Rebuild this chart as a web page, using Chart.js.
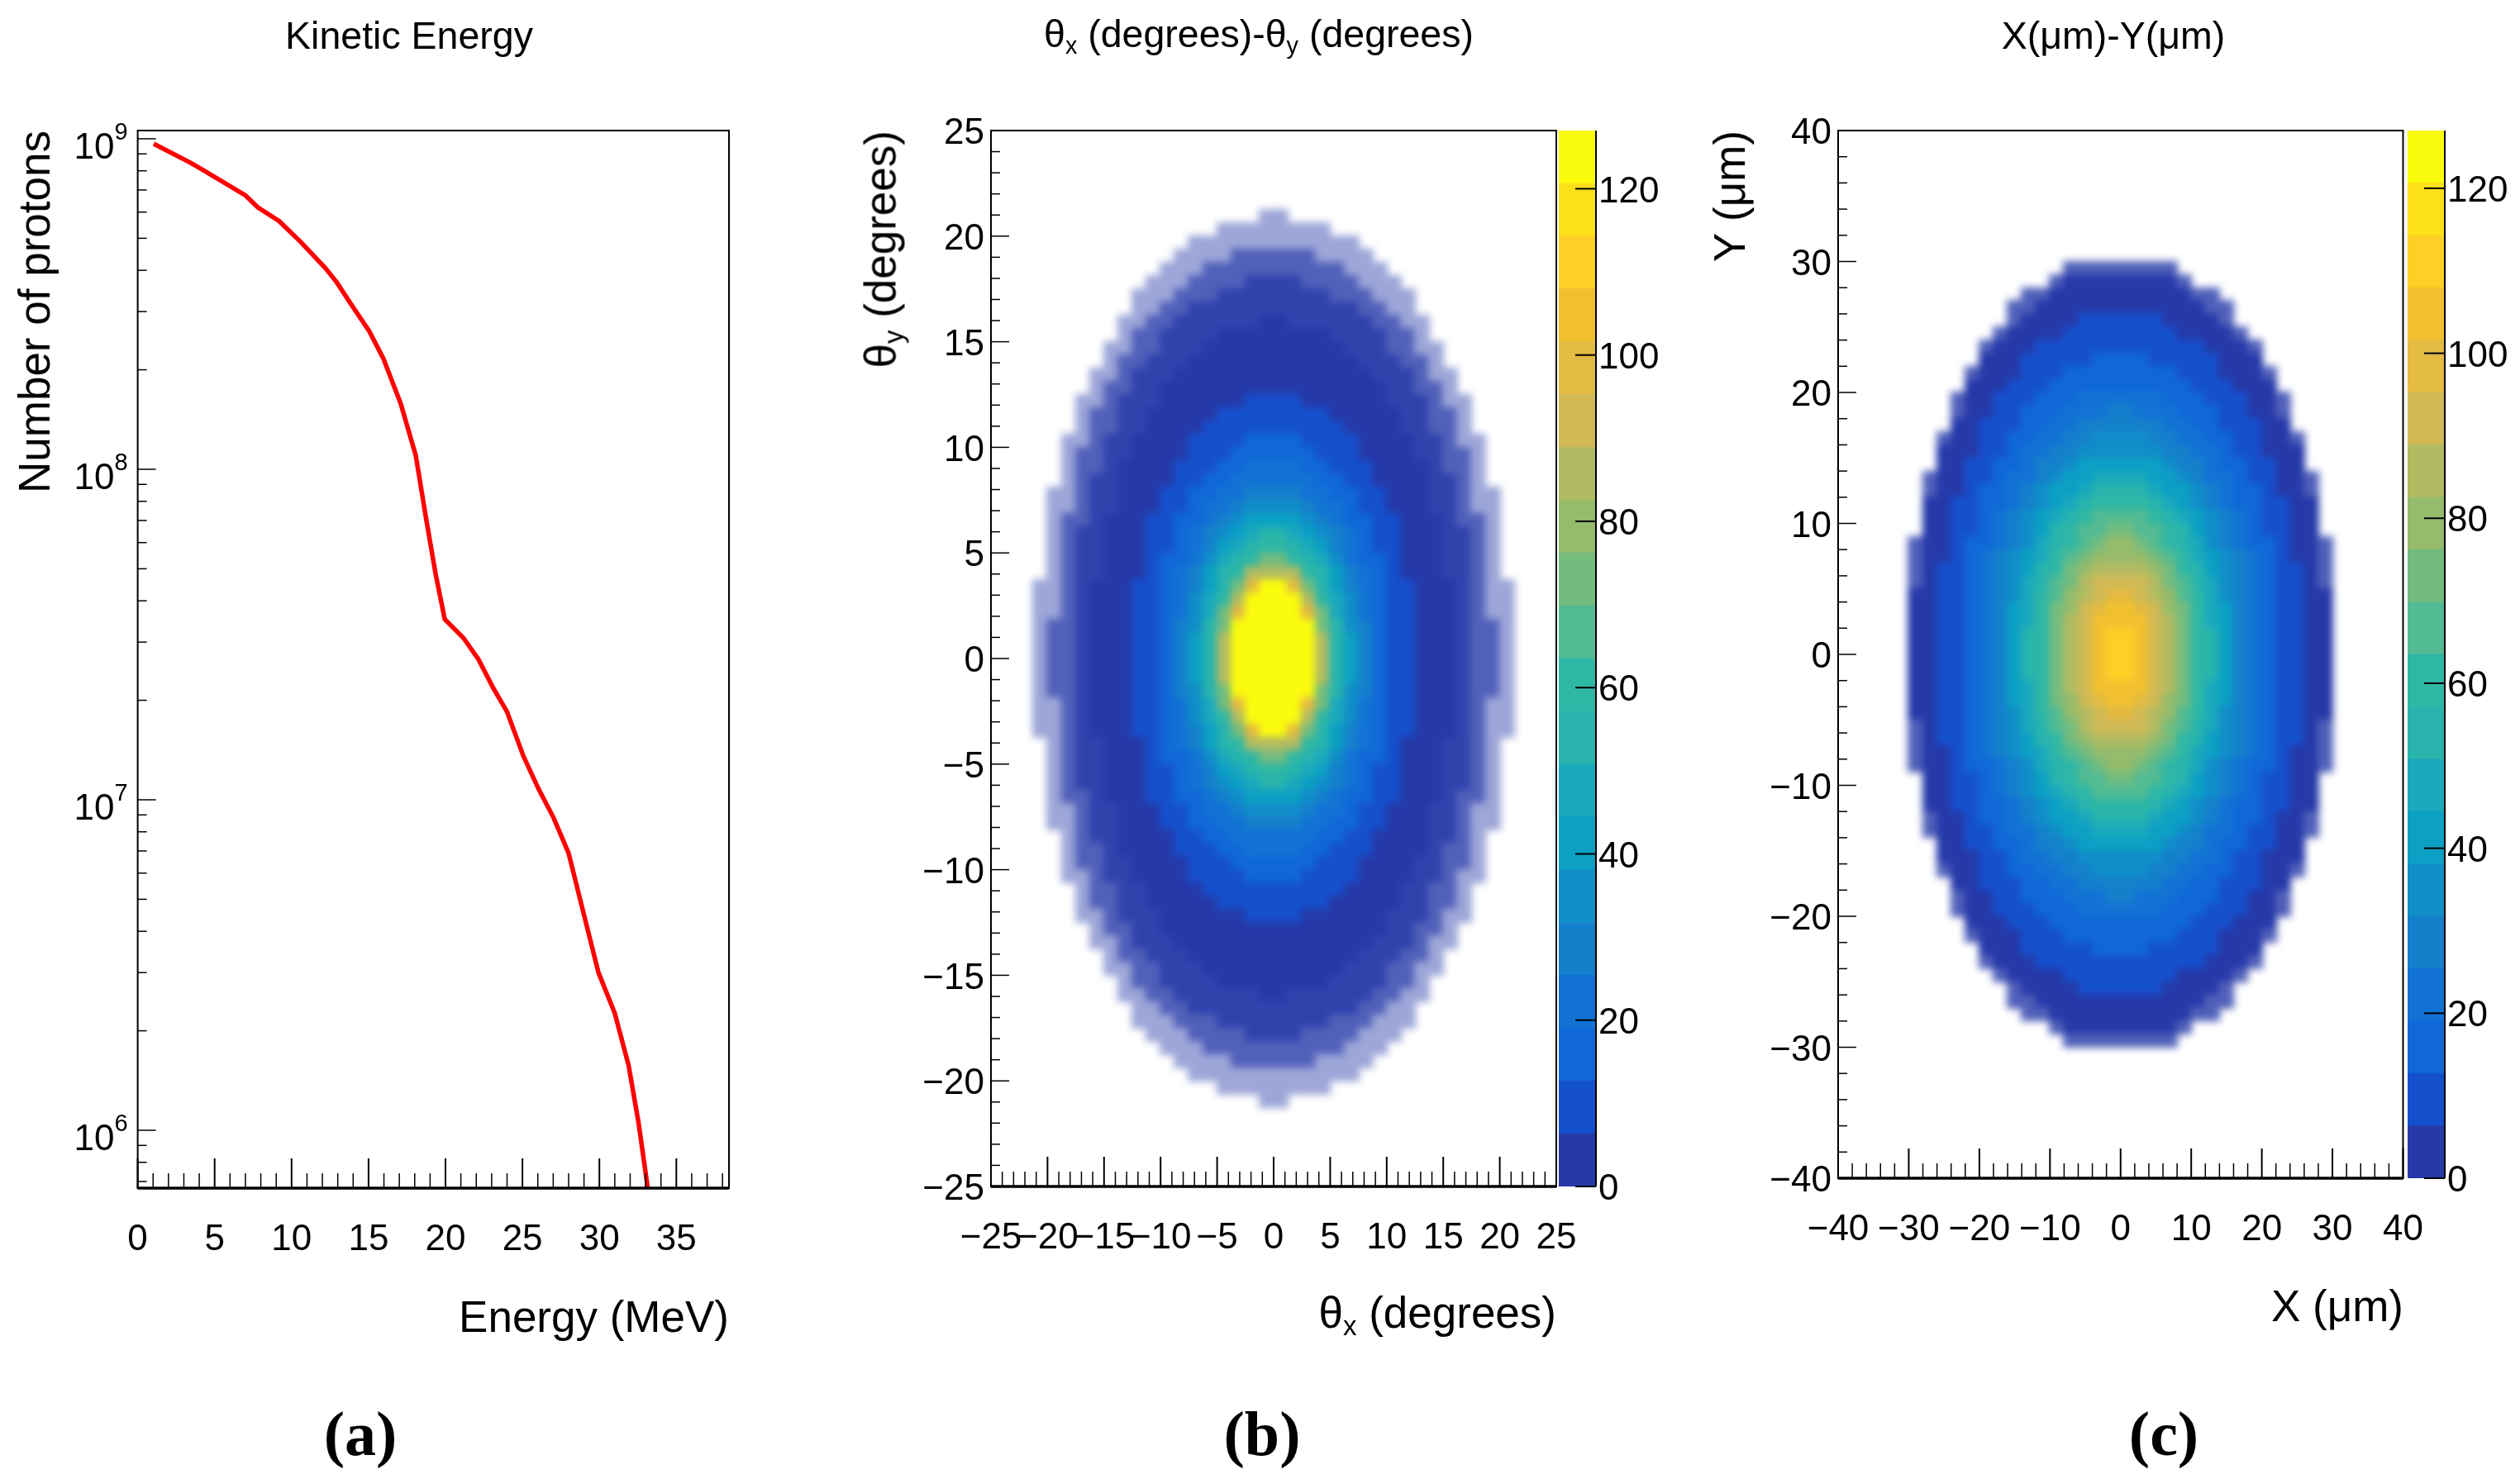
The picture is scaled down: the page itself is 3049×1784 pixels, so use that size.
<!DOCTYPE html>
<html>
<head>
<meta charset="utf-8">
<title>Proton beam distributions</title>
<script src="https://cdn.jsdelivr.net/npm/chart.js@4/dist/chart.umd.min.js"></script>
<style>
  html, body { margin: 0; padding: 0; background: #fff; }
  #page { position: relative; width: 3049px; height: 1784px; overflow: hidden; font-family: 'Liberation Sans', sans-serif; color: #000; }
  canvas { position: absolute; top: 0; }
  .label { position: absolute; white-space: nowrap; line-height: 60px; }
  .label sub { font-size: 62%; line-height: 0; vertical-align: -0.28em; }
  .title { font-size: 46.5px; transform: translateX(-50%); }
  .axis { font-size: 53px; }
  .rot { transform: rotate(-90deg); transform-origin: 100% 50%; }
  .tag { font-family: 'Liberation Serif', serif; font-weight: bold; font-size: 76px; line-height: 90px; transform: translateX(-50%); }
</style>
</head>
<body>
<div id="page">
  <canvas id="chart-energy" width="1000" height="1784" style="left:0"></canvas>
  <canvas id="chart-theta" width="960" height="1784" style="left:1000px"></canvas>
  <canvas id="bar-theta" width="165" height="1784" style="left:1886px"></canvas>
  <canvas id="chart-pos" width="950" height="1784" style="left:2049px"></canvas>
  <canvas id="bar-pos" width="136" height="1784" style="left:2913px"></canvas>

  <div class="label title" style="left:495px;top:13px">Kinetic Energy</div>
  <div class="label title" style="left:1523px;top:11px">θ<sub>x</sub> (degrees)-θ<sub>y</sub> (degrees)</div>
  <div class="label title" style="left:2557px;top:13px">X(μm)-Y(μm)</div>

  <div class="label axis rot" style="right:3007px;top:128px">Number of protons</div>
  <div class="label axis" style="right:2167px;top:1564px">Energy (MeV)</div>
  <div class="label axis rot" style="right:1984px;top:128px">θ<sub>y</sub> (degrees)</div>
  <div class="label axis" style="right:1166px;top:1559px">θ<sub>x</sub> (degrees)</div>
  <div class="label axis rot" style="right:956px;top:128px">Y (μm)</div>
  <div class="label axis" style="right:141px;top:1551px">X (μm)</div>

  <div class="label tag" style="left:436px;top:1690px">(a)</div>
  <div class="label tag" style="left:1527px;top:1690px">(b)</div>
  <div class="label tag" style="left:2618px;top:1690px">(c)</div>
</div>

<script>
/* ---------- data ---------- */

// (a) kinetic energy spectrum
const energyMeV = [1.04, 3.42, 4.07, 7.0, 7.81, 9.18, 10.58, 12.2, 12.93, 13.84, 15.04, 15.95, 17.09, 18.07,
  18.72, 19.36, 19.95, 21.16, 22.14, 23.1, 23.99, 25.05, 26.04, 27.02, 28.0, 28.97, 29.94, 31.0, 31.9, 32.55, 33.2];
const protonCounts = [9.66e8, 8.47e8, 8.13e8, 6.74e8, 6.2e8, 5.64e8, 4.88e8, 4.06e8, 3.68e8, 3.17e8, 2.62e8, 2.17e8, 1.58e8, 1.10e8,
  7.18e7, 4.82e7, 3.52e7, 3.09e7, 2.66e7, 2.18e7, 1.85e7, 1.36e7, 1.08e7, 8.83e6, 6.89e6, 4.54e6, 3.0e6, 2.26e6, 1.57e6, 1.05e6, 6.4e5];
const energyTicks = [0, 5, 10, 15, 20, 25, 30, 35];
const energyMinorTicks = [1, 2, 3, 4, 6, 7, 8, 9, 11, 12, 13, 14, 16, 17, 18, 19, 21, 22, 23, 24, 26, 27, 28, 29, 31, 32, 33, 34, 36, 37, 38];
const protonExponents = [6, 7, 8, 9];
const protonMinorTicks = [7e5, 8e5, 9e5, 2e6, 3e6, 4e6, 5e6, 6e6, 7e6, 8e6, 9e6, 2e7, 3e7, 4e7, 5e7, 6e7, 7e7, 8e7, 9e7, 2e8, 3e8, 4e8, 5e8, 6e8, 7e8, 8e8, 9e8];

// colour bands, bottom to top, each zBandStep counts tall
const zBandColors = ['#2539a9', '#1550cc', '#1068d8', '#1272d4', '#1480cc', '#108ec8', '#0ba0c4', '#1aa9bd', '#28b4ad', '#2fb7a5',
  '#52bb93', '#73bc7e', '#95bb6b', '#b2bb62', '#d0b955', '#e3ba42', '#f2c02f', '#fdd025', '#fbe01a', '#fbfb0d'];
const zBandStep = 6.35;
const zTicks = [0, 20, 40, 60, 80, 100, 120];

// 2D histograms, one character per cell, rows from top to bottom
// 0-9a-j = colour band, w v u = thinly filled cells (mean below one count), . = empty
const sparseFill = { w: 0.95, v: 0.8, u: 0.45 };

// (b) θx-θy, cells 1.25 x 0.625 degrees
const thetaRows = [
  '................uu................',
  '.............uuuuuuuu.............',
  '...........uuuuuuuuuuuu...........',
  '..........uuuuvvvvvvuuuu..........',
  '.........uuuvvvvvvvvvvuuu.........',
  '........uuuvvvvwwwwvvvvuuu........',
  '.......uuuvvvwwwwwwwwvvvuuu.......',
  '.......uuvvwwwwwwwwwwwwvvuu.......',
  '......uuvvwwwwww00wwwwwwvvuu......',
  '......uvvwwww00000000wwwwvvu......',
  '.....uuvvwww0000000000wwwvvuu.....',
  '.....uvvwww000000000000wwwvvu.....',
  '....uuvwww00000000000000wwwvuu....',
  '....uvvww0000000000000000wwvvu....',
  '...uuvwww0000001111000000wwwvuu...',
  '...uvvww000001111111100000wwvvu...',
  '...uvvww000011111111110000wwvvu...',
  '..uuvww00001111222211110000wwvuu..',
  '..uvvww00001112222221110000wwvvu..',
  '..uvvw0000111223333221110000wvvu..',
  '..uvww0000112233333322110000wwvu..',
  '.uuvww0001122334444332211000wwvuu.',
  '.uuvww0001123345555433211000wwvuu.',
  '.uvvw000112234566665432211000wvvu.',
  '.uvww000112345678876543211000wwvu.',
  '.uvww000112346789987643211000wwvu.',
  '.uvww00012235789bb98753221000wwvu.',
  '.uvww0001234689dddd9864321000wwvu.',
  'uuvw0001123468bfjjfb8643211000wvuu',
  'uuvw0001123579djjjjd9753211000wvuu',
  'uuvw000112357bfjjjjfb753211000wvuu',
  'uvvw000112458bjjjjjjb854211000wvvu',
  'uvvw000112468djjjjjjd864211000wvvu',
  'uvvw000112468djjjjjjd864211000wvvu',
  'uvvw000112468djjjjjjd864211000wvvu',
  'uvvw000112468djjjjjjd864211000wvvu',
  'uvvw000112458bjjjjjjb854211000wvvu',
  'uuvw000112357bfjjjjfb753211000wvuu',
  'uuvw0001123579djjjjd9753211000wvuu',
  'uuvw0001123468bfjjfb8643211000wvuu',
  '.uvww0001234689dddd9864321000wwvu.',
  '.uvww00012235789bb98753221000wwvu.',
  '.uvww000112346789987643211000wwvu.',
  '.uvww000112345678876543211000wwvu.',
  '.uvvw000112234566665432211000wvvu.',
  '.uuvww0001123345555433211000wwvuu.',
  '.uuvww0001122334444332211000wwvuu.',
  '..uvww0000112233333322110000wwvu..',
  '..uvvw0000111223333221110000wvvu..',
  '..uvvww00001112222221110000wwvvu..',
  '..uuvww00001111222211110000wwvuu..',
  '...uvvww000011111111110000wwvvu...',
  '...uvvww000001111111100000wwvvu...',
  '...uuvwww0000001111000000wwwvuu...',
  '....uvvww0000000000000000wwvvu....',
  '....uuvwww00000000000000wwwvuu....',
  '.....uvvwww000000000000wwwvvu.....',
  '.....uuvvwww0000000000wwwvvuu.....',
  '......uvvwwww00000000wwwwvvu......',
  '......uuvvwwwwww00wwwwwwvvuu......',
  '.......uuvvwwwwwwwwwwwwvvuu.......',
  '.......uuuvvvwwwwwwwwvvvuuu.......',
  '........uuuvvvvwwwwvvvvuuu........',
  '.........uuuvvvvvvvvvvuuu.........',
  '..........uuuuvvvvvvuuuu..........',
  '...........uuuuuuuuuuuu...........',
  '.............uuuuuuuu.............',
  '................uu................',
];
const thetaBin = { x0: -20.625, y0: 20.9375, dx: 1.25, dy: 0.625 };
const thetaTicks = [-25, -20, -15, -10, -5, 0, 5, 10, 15, 20, 25];
const thetaMinorTicks = [-24, -23, -22, -21, -19, -18, -17, -16, -14, -13, -12, -11, -9, -8, -7, -6, -4, -3, -2, -1,
  1, 2, 3, 4, 6, 7, 8, 9, 11, 12, 13, 14, 16, 17, 18, 19, 21, 22, 23, 24];

// (c) X-Y, cells 2 x 1 μm
const posRows = [
  '...........vvvvvvvv...........',
  '..........v00000000v..........',
  '........vv0000000000vv........',
  '.......vv000000000000vv.......',
  '.......v00001111110000v.......',
  '......v0000111111110000v......',
  '.....v000111111111111000v.....',
  '.....00011111222211111000.....',
  '....v00011122222222111000v....',
  '....0001112222222222111000....',
  '...v0011122233333322211100v...',
  '...v0011222333443332221100v...',
  '...001112233444444332211100...',
  '..v001122334455554433221100v..',
  '..00011233445555554433211000..',
  '..00112234456666665443221100..',
  '.v00112334566777766543321100v.',
  '.v00122345667888876654322100v.',
  '.0011223456789999876543221100.',
  '.001123456789aaaa987654321100.',
  '.00112345689aabbaa98654321100.',
  'v00122345789abccba98754322100v',
  'v0012345679abccccba9765432100v',
  'v0112345689bcddddcb9865432110v',
  'v011234578abdeeeedba875432110v',
  '0011234579acdeffedca9754321100',
  '0011234679bcefggfecb9764321100',
  '0011234679bdeggggedb9764321100',
  '0011234689bdeghhgedb9864321100',
  '0011234689bdeghhgedb9864321100',
  '0011234689bdeghhgedb9864321100',
  '0011234689bdeghhgedb9864321100',
  '0011234679bdeggggedb9764321100',
  '0011234679bcefggfecb9764321100',
  '0011234579acdeffedca9754321100',
  'v011234578abdeeeedba875432110v',
  'v0112345689bcddddcb9865432110v',
  'v0012345679abccccba9765432100v',
  'v00122345789abccba98754322100v',
  '.00112345689aabbaa98654321100.',
  '.001123456789aaaa987654321100.',
  '.0011223456789999876543221100.',
  '.v00122345667888876654322100v.',
  '.v00112334566777766543321100v.',
  '..00112234456666665443221100..',
  '..00011233445555554433211000..',
  '..v001122334455554433221100v..',
  '...001112233444444332211100...',
  '...v0011222333443332221100v...',
  '...v0011122233333322211100v...',
  '....0001112222222222111000....',
  '....v00011122222222111000v....',
  '.....00011111222211111000.....',
  '.....v000111111111111000v.....',
  '......v0000111111110000v......',
  '.......v00001111110000v.......',
  '.......vv000000000000vv.......',
  '........vv0000000000vv........',
  '..........v00000000v..........',
  '...........vvvvvvvv...........',
];
const posBin = { x0: -29, y0: 29.5, dx: 2, dy: 1 };
const posTicks = [-40, -30, -20, -10, 0, 10, 20, 30, 40];
const posMinorTicks = [-38, -36, -34, -32, -28, -26, -24, -22, -18, -16, -14, -12, -8, -6, -4, -2,
  2, 4, 6, 8, 12, 14, 16, 18, 22, 24, 26, 28, 32, 34, 36, 38];

/* ---------- helpers ---------- */

const TICK_FONT = { family: "'Liberation Sans', sans-serif", size: 44 };
const CELL_SOFTNESS = 5; // px, keeps the coarse bins from reading as blocks

const signed = v => String(v).replace('-', '\u2212');
const useTicks = list => axis => { axis.ticks = list.map(v => ({ value: v })); };

function cellsFrom(rows, bin) {
  const cells = [];
  rows.forEach((row, r) => {
    [...row].forEach((code, c) => {
      if (code !== '.') cells.push({ x: bin.x0 + c * bin.dx, y: bin.y0 - r * bin.dy, code });
    });
  });
  return cells;
}

function cellColor(code) {
  if (code in sparseFill) {
    // thin cells read as band 0 speckled on white
    const f = sparseFill[code];
    const mix = (hi) => Math.round(255 + (hi - 255) * f);
    return `rgb(${mix(0x25)},${mix(0x39)},${mix(0xa9)})`;
  }
  return zBandColors[parseInt(code, 20)];
}

// the library places each cell through its scales, the sprite only gives it the bin's size
function cellSprite(ctx, bin, cache) {
  const code = ctx.raw.code;
  const { x, y } = ctx.chart.scales;
  const w = Math.abs(x.getPixelForValue(bin.dx) - x.getPixelForValue(0));
  const h = Math.abs(y.getPixelForValue(bin.dy) - y.getPixelForValue(0));
  if (!(w > 0 && h > 0)) return 'rect'; // scales not laid out yet
  if (!cache[code]) {
    const c = document.createElement('canvas');
    c.width = Math.ceil(w) + 1;
    c.height = Math.ceil(h) + 1;
    const g = c.getContext('2d');
    g.fillStyle = cellColor(code);
    g.fillRect(0, 0, c.width, c.height);
    cache[code] = c;
  }
  return cache[code];
}

// one blur pass over the plot area only, before frame and ticks go on top
const softCells = {
  id: 'softCells',
  afterDatasetsDraw(chart) {
    const { ctx, canvas, chartArea: a } = chart;
    const w = a.right - a.left;
    const h = a.bottom - a.top;
    const copy = document.createElement('canvas');
    copy.width = canvas.width;
    copy.height = canvas.height;
    copy.getContext('2d').drawImage(canvas, a.left, a.top, w, h, a.left, a.top, w, h);
    ctx.save();
    ctx.beginPath();
    ctx.rect(a.left, a.top, w, h);
    ctx.clip();
    ctx.clearRect(a.left, a.top, w, h);
    ctx.filter = `blur(${CELL_SOFTNESS}px)`;
    ctx.drawImage(copy, 0, 0);
    ctx.restore();
  },
};

// ROOT style: frame plus ticks pointing into the plot
const rootFrame = {
  id: 'rootFrame',
  afterDatasetsDraw(chart, args, o) {
    const { ctx, chartArea: a, scales } = chart;
    ctx.save();
    ctx.strokeStyle = '#000';
    ctx.lineCap = 'butt';
    const tickX = (vals, len, w) => {
      ctx.lineWidth = w;
      vals.forEach(v => {
        const px = scales.x.getPixelForValue(v);
        ctx.beginPath(); ctx.moveTo(px, a.bottom); ctx.lineTo(px, a.bottom - len); ctx.stroke();
      });
    };
    const tickY = (vals, len, w) => {
      ctx.lineWidth = w;
      vals.forEach(v => {
        const py = scales.y.getPixelForValue(v);
        ctx.beginPath(); ctx.moveTo(a.left, py); ctx.lineTo(a.left + len, py); ctx.stroke();
      });
    };
    tickX(o.xMajor, 36, 2);
    tickX(o.xMinor, 18, 1.5);
    tickY(o.yMajor, 22, 1.5);
    tickY(o.yMinor, 11, 1.5);
    ctx.lineWidth = 2;
    ctx.strokeRect(a.left, a.top, a.right - a.left, a.bottom - a.top);
    ctx.lineWidth = 3.5;
    ctx.beginPath(); ctx.moveTo(a.left, a.bottom); ctx.lineTo(a.right, a.bottom); ctx.stroke();
    ctx.restore();
  },
};

// 10 with a raised exponent, for the log axis
const logLabels = {
  id: 'logLabels',
  afterDraw(chart) {
    const { ctx, chartArea: a, scales } = chart;
    ctx.save();
    ctx.fillStyle = '#000';
    ctx.textBaseline = 'alphabetic';
    protonExponents.forEach(e => {
      const py = scales.y.getPixelForValue(Math.pow(10, e));
      ctx.textAlign = 'right';
      ctx.font = `29px ${TICK_FONT.family}`;
      ctx.fillText(String(e), a.left - 12, py + 1);
      const w = ctx.measureText(String(e)).width;
      ctx.font = `${TICK_FONT.size}px ${TICK_FONT.family}`;
      ctx.fillText('10', a.left - 12 - w, py + 24);
    });
    ctx.restore();
  },
};

// right edge line and inward ticks of the colour bar
const barTicks = {
  id: 'barTicks',
  afterDatasetsDraw(chart) {
    const { ctx, chartArea: a, scales } = chart;
    ctx.save();
    ctx.strokeStyle = '#000';
    ctx.lineWidth = 2;
    ctx.beginPath(); ctx.moveTo(a.right, a.top); ctx.lineTo(a.right, a.bottom); ctx.stroke();
    zTicks.forEach(v => {
      const py = scales.y.getPixelForValue(v);
      ctx.beginPath(); ctx.moveTo(a.right, py); ctx.lineTo(a.right - 25, py); ctx.stroke();
    });
    ctx.restore();
  },
};

function baseOptions(pad, yWidth, frame) {
  return {
    responsive: false,
    animation: false,
    devicePixelRatio: 1,
    events: [],
    layout: { padding: pad },
    plugins: { legend: { display: false }, tooltip: { enabled: false }, rootFrame: frame },
    elements: { point: { borderWidth: 0 } },
    scales: {
      x: {
        type: 'linear',
        grid: { display: false, drawTicks: false },
        border: { display: false },
        ticks: {
          font: TICK_FONT, color: '#000', padding: 36, autoSkip: false, maxRotation: 0, minRotation: 0, callback: signed,
        },
        afterFit: s => { s.height = 100; },
      },
      y: {
        type: 'linear',
        grid: { display: false, drawTicks: false },
        border: { display: false },
        afterFit: s => { s.width = yWidth; },
      },
    },
  };
}

/* ---------- charts ---------- */

function buildEnergyChart() {
  const options = baseOptions({ top: 158, right: 118, bottom: 246, left: 0 }, 166.6, {
    xMajor: energyTicks, xMinor: energyMinorTicks,
    yMajor: protonExponents.map(e => Math.pow(10, e)), yMinor: protonMinorTicks,
  });
  options.scales.x.min = 0;
  options.scales.x.max = 38.42;
  options.scales.x.afterBuildTicks = useTicks(energyTicks);
  options.scales.y.type = 'logarithmic';
  options.scales.y.min = 6.683e5;
  options.scales.y.max = 1.059e9;
  options.scales.y.ticks = { display: false };
  new Chart(document.getElementById('chart-energy'), {
    type: 'scatter',
    data: {
      datasets: [{
        data: energyMeV.map((e, i) => ({ x: e, y: protonCounts[i] })),
        showLine: true,
        borderColor: '#ff0000',
        borderWidth: 5.5,
        pointRadius: 0,
        tension: 0,
      }],
    },
    options,
    plugins: [rootFrame, logLabels],
  });
}

function buildHistChart(id, rows, bin, ticks, minor, limit, pad, yWidth) {
  const options = baseOptions(pad, yWidth, { xMajor: ticks, xMinor: minor, yMajor: ticks, yMinor: minor });
  const sprites = {};
  options.scales.x.min = -limit;
  options.scales.x.max = limit;
  options.scales.x.afterBuildTicks = useTicks(ticks);
  options.scales.y.min = -limit;
  options.scales.y.max = limit;
  options.scales.y.ticks = { font: TICK_FONT, color: '#000', padding: 8, labelOffset: 4, autoSkip: false, callback: signed };
  options.scales.y.afterBuildTicks = useTicks(ticks);
  new Chart(document.getElementById(id), {
    type: 'scatter',
    data: {
      datasets: [{
        data: cellsFrom(rows, bin),
        pointRadius: 1,
        pointStyle: ctx => cellSprite(ctx, bin, sprites),
      }],
    },
    options,
    plugins: [softCells, rootFrame],
  });
}

function buildColorBar(id, bottom) {
  new Chart(document.getElementById(id), {
    type: 'bar',
    data: {
      labels: ['z'],
      datasets: zBandColors.map(color => ({
        data: [zBandStep], backgroundColor: color, barPercentage: 1, categoryPercentage: 1,
      })),
    },
    options: {
      responsive: false,
      animation: false,
      devicePixelRatio: 1,
      events: [],
      layout: { padding: { top: 158, bottom: 1784 - bottom, left: 0, right: 0 } },
      plugins: { legend: { display: false }, tooltip: { enabled: false } },
      scales: {
        x: { display: false, stacked: true },
        y: {
          position: 'right',
          stacked: true,
          min: 0,
          max: 127,
          grid: { display: false, drawTicks: false },
          border: { display: false },
          ticks: { font: TICK_FONT, color: '#000', padding: 3, labelOffset: 4, autoSkip: false },
          afterBuildTicks: useTicks(zTicks),
          afterFit: s => { s.width = document.getElementById(id).width - 45; },
        },
      },
    },
    plugins: [barTicks],
  });
}

buildEnergyChart();
buildHistChart('chart-theta', thetaRows, thetaBin, thetaTicks, thetaMinorTicks, 25,
  { top: 158, right: 77, bottom: 248, left: 0 }, 199);
buildColorBar('bar-theta', 1436);
buildHistChart('chart-pos', posRows, posBin, posTicks, posMinorTicks, 40,
  { top: 158, right: 91.5, bottom: 258, left: 0 }, 175);
buildColorBar('bar-pos', 1426);
</script>
</body>
</html>
